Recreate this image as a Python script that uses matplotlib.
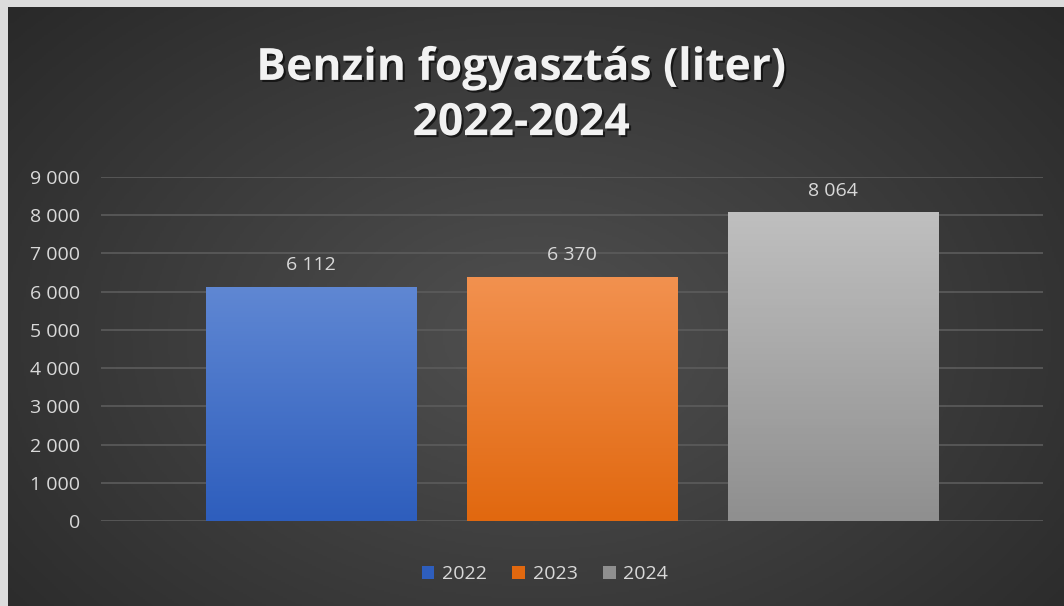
import numpy as np
import matplotlib
matplotlib.use("Agg")
import matplotlib.pyplot as plt
import matplotlib.patheffects as pe
from matplotlib.colors import LinearSegmentedColormap
from matplotlib.patches import Patch
from matplotlib.ticker import FuncFormatter

# data
years = ["2022", "2023", "2024"]
liters = [6112, 6370, 8064]
top_colors = ["#5f87d3", "#f2914f", "#bfbfbf"]
bottom_colors = ["#2e5ebd", "#e1680f", "#8f8f8f"]
title = "Benzin fogyasztás (liter)\n2022-2024"

plt.rcParams["font.family"] = ["Open Sans", "DejaVu Sans"]
txt = "#d9d9d9"

fig = plt.figure(figsize=(10.64, 6.06), dpi=100, facecolor="#dcdcdc")

# radial-ish dark background
bg = fig.add_axes([8 / 1064, 0, 1 - 8 / 1064, 1 - 7 / 606])
bg.set_axis_off()
yy, xx = np.mgrid[0:1:300j, 0:1:500j]
r = np.sqrt(((xx - 0.5) / 0.75) ** 2 + ((yy - 0.55) / 0.9) ** 2)
shade = np.clip(1 - r, 0, 1)
bg_cmap = LinearSegmentedColormap.from_list("bg", ["#252525", "#505050"])
bg.imshow(shade, cmap=bg_cmap, aspect="auto", extent=[0, 1, 0, 1], vmin=0, vmax=1)
bg.set_xlim(0, 1)
bg.set_ylim(0, 1)

ax = fig.add_axes([101 / 1064, 85 / 606, 942 / 1064, 344 / 606])
ax.patch.set_alpha(0)
x = np.arange(len(years))
w = 0.805
bars = ax.bar(x, liters, width=w, color=top_colors, zorder=2)

# gradient fill on each bar
for b, c1, c2 in zip(bars, top_colors, bottom_colors):
    cm = LinearSegmentedColormap.from_list("g", [c2, c1])
    grad = np.linspace(0, 1, 100).reshape(-1, 1)
    x0, y0 = b.get_x(), b.get_y()
    ax.imshow(grad, cmap=cm, origin="lower", aspect="auto",
              extent=[x0, x0 + b.get_width(), y0, y0 + b.get_height()], zorder=3)

for xi, v in zip(x, liters):
    ax.annotate(f"{v:,}".replace(",", " "), (xi, v), xytext=(0, 16),
                textcoords="offset points", ha="center", va="center",
                color=txt, fontsize=14)

ax.set_xlim(-0.805, 2.805)
ax.set_ylim(0, 9000)
ax.set_yticks(range(0, 9001, 1000))
ax.yaxis.set_major_formatter(FuncFormatter(lambda v, p: f"{int(v):,}".replace(",", " ")))
ax.set_xticks([])
ax.tick_params(axis="y", length=0, pad=15, labelcolor=txt, labelsize=14)
ax.grid(axis="y", color="#5c5c5c", linewidth=1.2, zorder=0)
for s in ax.spines.values():
    s.set_visible(False)

fig.text(0.49, 1 - 96 / 606, title, ha="center", va="center", fontsize=32,
         fontweight="bold", color="#f2f2f2", linespacing=1.3,
         path_effects=[pe.withSimplePatchShadow(offset=(1.5, -1.5), shadow_rgbFace="black", alpha=0.6)])

handles = [Patch(facecolor=c, label=y) for c, y in zip(bottom_colors, years)]
fig.legend(handles=handles, loc="center", bbox_to_anchor=(545 / 1064, 1 - 574 / 606),
           ncol=3, frameon=False, handlelength=0.65, handleheight=0.65,
           handletextpad=0.4, columnspacing=1.3, fontsize=14, labelcolor=txt)

fig.savefig("out.png", dpi=100, facecolor=fig.get_facecolor())
